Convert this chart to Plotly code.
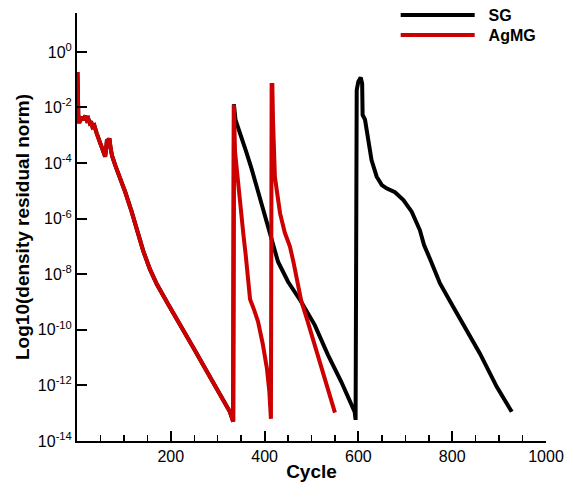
import numpy as np
import plotly.graph_objects as go

# ---- data (cycle, log10 of density residual norm) ----
common_cycle = [1, 3, 6, 10, 14, 18, 21, 24, 27, 30, 33, 37, 42, 47, 53, 57, 60,
                62, 64, 67, 69, 72, 75, 82, 90, 103, 116, 128, 141, 155, 170,
                195, 220, 250, 277, 300, 326, 333]
common_log = [-0.72, -2.5, -2.5, -2.38, -2.4, -2.3, -2.45, -2.4, -2.55, -2.5, -2.7,
              -2.65, -2.93, -3.15, -3.41, -3.6, -3.77, -3.5, -3.15, -3.2, -3.11,
              -3.5, -3.75, -4.1, -4.45, -5.05, -5.72, -6.45, -7.15, -7.8, -8.35,
              -9.1, -9.8, -10.7, -11.5, -12.2, -12.95, -13.3]

sg_tail_cycle = [333.5, 334.5, 338, 343, 347, 360, 372, 393, 414, 428.6, 450, 478,
                 507, 535, 563.5, 592, 594, 594.5, 596.4, 599.8, 604.9, 608, 609,
                 614, 621, 628, 639, 650, 660, 678, 696, 713.6, 731, 740, 752.7,
                 774, 802, 831, 859, 895, 927]
sg_tail_log = [-1.95, -1.88, -2.45, -2.69, -2.87, -3.55, -4.19, -5.39, -6.71, -7.55,
               -8.27, -8.99, -9.83, -10.9, -11.87, -12.95, -13.24, -2.2, -1.37,
               -1.07, -0.92, -1.14, -2.27, -2.43, -3.17, -3.89, -4.49, -4.79, -4.91,
               -5.05, -5.33, -5.75, -6.41, -6.95, -7.45, -8.33, -9.17, -10.0, -10.85,
               -12.05, -12.95]

ag_tail_cycle = [333.5, 334.5, 337, 343, 349, 355, 360, 364, 369, 378, 386, 396, 405,
                 410, 413, 413.5, 415, 416.5, 418, 419.5, 422, 427, 433, 443, 454,
                 462, 470, 478, 490, 500, 508, 517, 525, 532, 540, 550]
ag_tail_log = [-1.92, -1.9, -3.6, -4.7, -5.7, -6.6, -7.35, -8.1, -8.9, -9.3, -9.7,
               -10.5, -11.4, -12.2, -13.15, -13.2, -1.19, -1.19, -2.5, -3.8, -4.5,
               -5.1, -5.81, -6.5, -7.0, -7.6, -8.3, -8.95, -9.6, -10.15, -10.6,
               -11.1, -11.6, -12.0, -12.4, -12.98]

ytick_exp = [0, -2, -4, -6, -8, -10, -12, -14]
xtick_vals = [200, 400, 600, 800, 1000]

sg_x = common_cycle + sg_tail_cycle
sg_y = [10 ** v for v in common_log + sg_tail_log]
ag_x = common_cycle + ag_tail_cycle
ag_y = [10 ** v for v in common_log + ag_tail_log]

FONT = "Liberation Sans, Arial, sans-serif"
RED = "#cc0000"
NB = "\u00a0\u00a0"

fig = go.Figure()
fig.add_trace(go.Scatter(x=sg_x, y=sg_y, mode="lines", name=NB + "SG",
                         legend="legend",
                         line=dict(color="black", width=4)))
fig.add_trace(go.Scatter(x=ag_x, y=ag_y, mode="lines", name=NB + "AgMG",
                         legend="legend2",
                         line=dict(color=RED, width=4)))

leg_common = dict(xanchor="left", yanchor="top", bgcolor="rgba(0,0,0,0)",
                  itemwidth=74, borderwidth=0,
                  font=dict(family=FONT, size=16, weight="bold"))

fig.update_layout(
    width=570, height=483,
    margin=dict(l=77, r=24, t=13, b=42, autoexpand=False),
    paper_bgcolor="white", plot_bgcolor="white",
    font=dict(family=FONT, color="black"),
    showlegend=True, hovermode=False,
    legend=dict(x=0.6795, y=1.035, **leg_common),
    legend2=dict(x=0.6795, y=0.988, **leg_common),
)

fig.update_xaxes(
    range=[0, 1000], showgrid=False, zeroline=False, automargin=False,
    showline=True, linecolor="black", linewidth=2,
    tickmode="array", tickvals=xtick_vals, ticktext=[str(v) for v in xtick_vals],
    ticks="inside", ticklen=10, tickwidth=2, tickcolor="black",
    tickfont=dict(size=16, family=FONT),
    minor=dict(tickmode="linear", tick0=0, dtick=50, ticks="inside",
               ticklen=6, tickwidth=1.5, tickcolor="black", showgrid=False),
    title=dict(text="Cycle", font=dict(size=19, family=FONT, weight="bold"),
               standoff=0),
)

fig.update_yaxes(
    type="log", range=[-14, 1.4], showgrid=False, zeroline=False, automargin=False,
    showline=True, linecolor="black", linewidth=2,
    tickmode="array", tickvals=[10 ** e for e in ytick_exp],
    ticktext=["10<sup>%d</sup>" % e for e in ytick_exp],
    ticks="inside", ticklen=10, tickwidth=2, tickcolor="black",
    tickfont=dict(size=16, family=FONT),
    title=dict(text="Log10(density residual norm)",
               font=dict(size=19, family=FONT, weight="bold"), standoff=3),
)

fig.write_html("out.html",
               config={"displayModeBar": False, "staticPlot": True},
               post_script="document.body.style.margin='0px';document.body.style.overflow='hidden';")
